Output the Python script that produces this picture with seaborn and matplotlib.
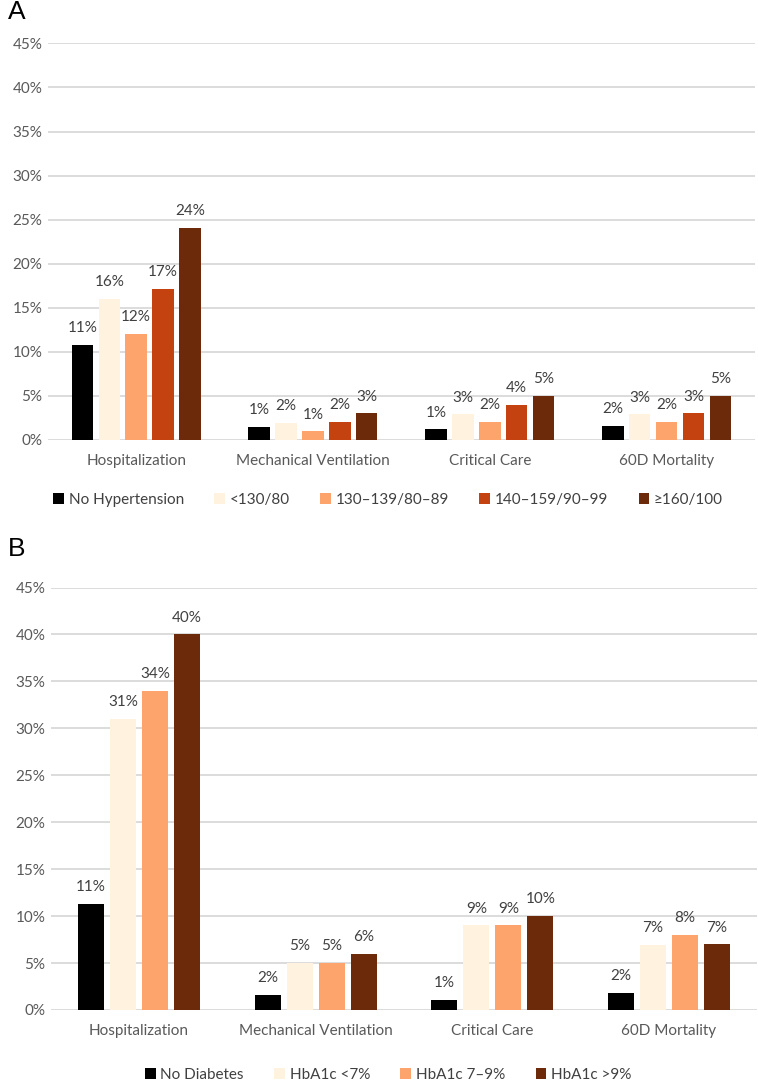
import seaborn as sns
import matplotlib.pyplot as plt
import pandas as pd

outcomes = ['Hospitalization', 'Mechanical Ventilation', 'Critical Care', '60D Mortality']

# panel A - blood pressure groups
bp_groups = ['No Hypertension', '<130/80', '130–139/80–89', '140–159/90–99', '≥160/100']
bp_colors = ['#000000', '#FFF2DE', '#FDA46C', '#C4420F', '#6C2A0B']
bp_none = [10.8, 1.45, 1.2, 1.6]
bp_lt130 = [16.0, 1.95, 2.9, 2.9]
bp_130 = [12.0, 0.95, 2.0, 2.0]
bp_140 = [17.1, 2.0, 4.0, 3.0]
bp_160 = [24.1, 3.0, 5.0, 5.0]

# panel B - HbA1c groups
dm_groups = ['No Diabetes', 'HbA1c <7%', 'HbA1c 7–9%', 'HbA1c >9%']
dm_colors = ['#000000', '#FFF2DE', '#FDA46C', '#6C2A0B']
dm_none = [11.3, 1.6, 1.05, 1.8]
dm_lt7 = [31.0, 5.0, 9.0, 6.95]
dm_7to9 = [34.0, 5.0, 9.0, 8.0]
dm_gt9 = [40.0, 6.0, 10.0, 7.0]

sns.set_theme(style='white')
plt.rcParams['font.family'] = ['Lato', 'DejaVu Sans']

def long_table(groups, series):
    rows = []
    for g, vals in zip(groups, series):
        for o, v in zip(outcomes, vals):
            rows.append({'outcome': o, 'group': g, 'pct': v})
    return pd.DataFrame(rows)

df_a = long_table(bp_groups, [bp_none, bp_lt130, bp_130, bp_140, bp_160])
df_b = long_table(dm_groups, [dm_none, dm_lt7, dm_7to9, dm_gt9])

fig = plt.figure(figsize=(7.58, 10.86), dpi=100)
ax_a = fig.add_axes([0.063, 0.595, 0.933, 0.365])
ax_b = fig.add_axes([0.067, 0.070, 0.932, 0.389])


def draw(ax, df, groups, colors, width, gap, legend_y):
    sns.barplot(data=df, x='outcome', y='pct', hue='group', hue_order=groups,
                palette=colors, width=width, gap=gap, linewidth=0,
                saturation=1, ax=ax, legend=True)
    ax.set_ylim(0, 45)
    ax.set_yticks(range(0, 46, 5))
    ax.set_yticklabels([f'{t}%' for t in range(0, 46, 5)])
    ax.yaxis.grid(True, color='#D9D9D9', linewidth=1.3)
    ax.set_axisbelow(True)
    for s in ax.spines.values():
        s.set_visible(False)
    ax.set_xlabel('')
    ax.set_ylabel('')
    ax.tick_params(axis='both', length=0, labelsize=11, colors='#595959')
    ax.tick_params(axis='x', pad=10)
    ax.tick_params(axis='y', pad=4)
    for cont in ax.containers:
        ax.bar_label(cont, labels=[f'{round(b.get_height())}%' for b in cont],
                     padding=7, fontsize=11, color='#404040')
    handles, labels = ax.get_legend_handles_labels()
    ax.legend_.remove()
    fig.legend(handles, labels, loc='center', bbox_to_anchor=(0.512, legend_y),
               ncol=len(groups), frameon=False, fontsize=11,
               handlelength=0.7, handleheight=0.7, handletextpad=0.3,
               columnspacing=2.0, labelcolor='#404040')


draw(ax_a, df_a, bp_groups, bp_colors, 0.76, 0.2, 0.540)
draw(ax_b, df_b, dm_groups, dm_colors, 0.725, 0.19, 0.010)

fig.text(0.010, 0.9885, 'A', fontsize=19, color='black', va='center',
         family='Liberation Sans')
fig.text(0.010, 0.4945, 'B', fontsize=19, color='black', va='center',
         family='Liberation Sans')

fig.savefig('out.png', dpi=100, facecolor='white')
